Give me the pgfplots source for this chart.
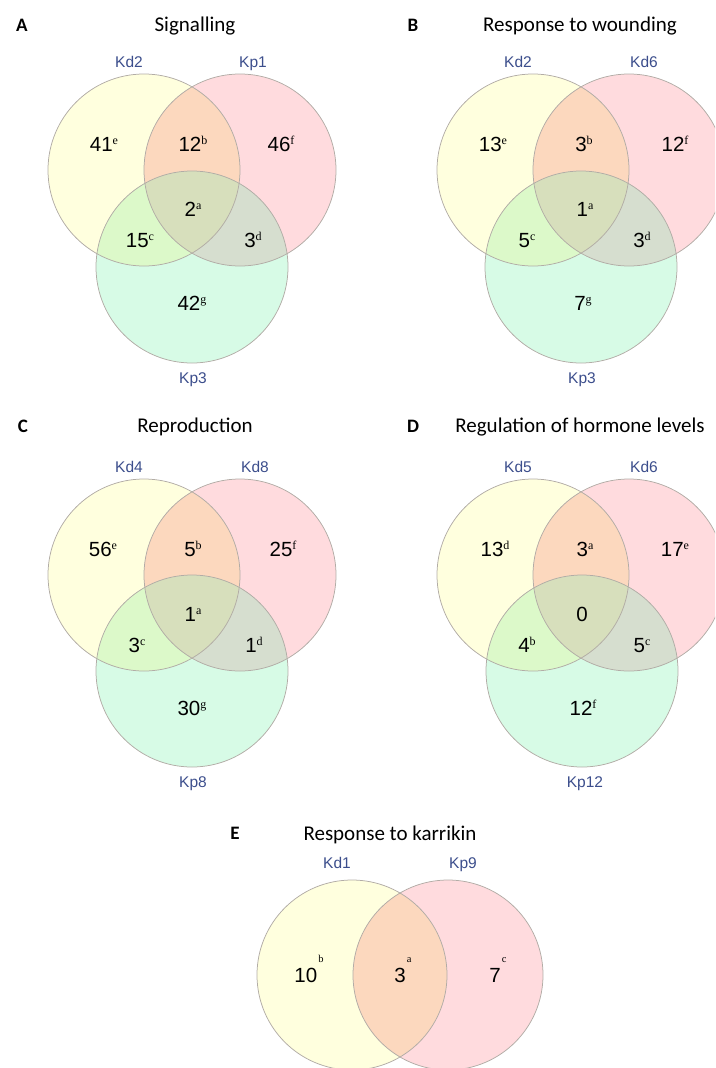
\documentclass[border=0pt]{standalone}
\usepackage{pgfplots}
\pgfplotsset{compat=1.18}
\usepackage{pgfplotstable}
\usepackage{fontspec}
\setmainfont{Carlito}
\newfontfamily\arial{Liberation Sans}
\newfontfamily\tnr{Liberation Serif}
\definecolor{cY}{RGB}{255,255,222}
\definecolor{cP}{RGB}{255,219,222}
\definecolor{cG}{RGB}{215,251,230}
\definecolor{cYP}{RGB}{252,216,190}
\definecolor{cYG}{RGB}{220,249,201}
\definecolor{cPG}{RGB}{214,222,207}
\definecolor{cYPG}{RGB}{215,223,188}
\definecolor{edge}{RGB}{178,172,166}
\definecolor{setlbl}{RGB}{60,78,140}

\tikzset{
  title lbl/.style={font=\fontsize{21}{25}\selectfont, anchor=base},
  panel lbl/.style={font=\bfseries\fontsize{19}{22}\selectfont, anchor=base},
  set lbl/.style={font=\arial\fontsize{15.5}{18}\selectfont, text=setlbl, anchor=base}
}
% superscript letters after the region counts
\newcommand\su[1]{\raisebox{6.5pt}{\tnr\fontsize{12}{12}\selectfont #1}}
\newcommand\sue[1]{\hspace{1pt}\raisebox{20pt}{\tnr\fontsize{10.5}{10.5}\selectfont #1}}

\pgfplotstableread{
x y lbl
104 151 41\su{e}
193 151 12\su{b}
281 151 46\su{f}
193 216 2\su{a}
140 247 15\su{c}
253 247 3\su{d}
192 310 42\su{g}
493 151 13\su{e}
584 151 3\su{b}
675 151 12\su{f}
585 216 1\su{a}
527 247 5\su{c}
642 247 3\su{d}
583 310 7\su{g}
103 556 56\su{e}
193 556 5\su{b}
283 556 25\su{f}
193 621 1\su{a}
137 652 3\su{c}
254 652 1\su{d}
192 715 30\su{g}
495 556 13\su{d}
585 556 3\su{a}
675 556 17\su{e}
582 621 0
527 652 4\su{b}
642 652 5\su{c}
583 715 12\su{f}
}\tblABCD

\pgfplotstableread{
x y lbl
309 982 10\sue{b}
403 982 3\sue{a}
498 982 7\sue{c}
}\tblE

\newcommand\venn[6]{%
  \fill[cY] (axis cs:#1,#2) circle[radius=96];
  \fill[cP] (axis cs:#3,#4) circle[radius=96];
  \fill[cG] (axis cs:#5,#6) circle[radius=96];
  \begin{scope}
    \clip (axis cs:#3,#4) circle[radius=96];
    \fill[cPG] (axis cs:#5,#6) circle[radius=96];
  \end{scope}
  \begin{scope}
    \clip (axis cs:#1,#2) circle[radius=96];
    \fill[cYP] (axis cs:#3,#4) circle[radius=96];
    \fill[cYG] (axis cs:#5,#6) circle[radius=96];
    \clip (axis cs:#3,#4) circle[radius=96];
    \fill[cYPG] (axis cs:#5,#6) circle[radius=96];
  \end{scope}
  \draw[edge, line width=0.75pt] (axis cs:#1,#2) circle[radius=96];
  \draw[edge, line width=0.75pt] (axis cs:#3,#4) circle[radius=96];
  \draw[edge, line width=0.75pt] (axis cs:#5,#6) circle[radius=96];
}

\begin{document}
\begin{tikzpicture}
\begin{axis}[x=1pt, y=1pt, xmin=0, xmax=715, ymin=0, ymax=1068,
  y dir=reverse, hide axis, clip=true]
\venn{144}{170}{240}{170}{192}{267}
\venn{533}{170}{629}{170}{581}{267}
\venn{144}{575}{240}{575}{192}{671}
\venn{533}{575}{629}{575}{582}{671}
% panel E
\fill[cY] (axis cs:352,975) circle[radius=95];
\fill[cP] (axis cs:448,975) circle[radius=95];
\begin{scope}
  \clip (axis cs:352,975) circle[radius=95];
  \fill[cYP] (axis cs:448,975) circle[radius=95];
\end{scope}
\draw[edge, line width=0.75pt] (axis cs:352,975) circle[radius=95];
\draw[edge, line width=0.75pt] (axis cs:448,975) circle[radius=95];

\addplot[only marks, mark=none, point meta=explicit symbolic,
  nodes near coords={\arial\fontsize{20.5}{20.5}\selectfont\pgfplotspointmeta},
  every node near coord/.append style={anchor=base, inner sep=0pt, text=black}]
  table[x=x, y=y, meta=lbl] {\tblABCD};
\addplot[only marks, mark=none, point meta=explicit symbolic,
  nodes near coords={\arial\fontsize{20.5}{20.5}\selectfont\pgfplotspointmeta},
  every node near coord/.append style={anchor=base, inner sep=0pt, text=black}]
  table[x=x, y=y, meta=lbl] {\tblE};

% titles and panel letters
\node[panel lbl] at (axis cs:22,31) {A};
\node[title lbl] at (axis cs:195,31) {Signalling};
\node[panel lbl] at (axis cs:413,31) {B};
\node[title lbl] at (axis cs:580,31) {Response to wounding};
\node[panel lbl] at (axis cs:23,432) {C};
\node[title lbl] at (axis cs:195,432) {Reproduction};
\node[panel lbl] at (axis cs:413,432) {D};
\node[title lbl] at (axis cs:580,432) {Regulation of hormone levels};
\node[panel lbl] at (axis cs:235,839) {E};
\node[title lbl] at (axis cs:390,840) {Response to karrikin};

% set labels
\node[set lbl] at (axis cs:129,67) {Kd2};
\node[set lbl] at (axis cs:253,67) {Kp1};
\node[set lbl] at (axis cs:193,383) {Kp3};
\node[set lbl] at (axis cs:518,67) {Kd2};
\node[set lbl] at (axis cs:644,67) {Kd6};
\node[set lbl] at (axis cs:582,383) {Kp3};
\node[set lbl] at (axis cs:129,472) {Kd4};
\node[set lbl] at (axis cs:255,472) {Kd8};
\node[set lbl] at (axis cs:193,787) {Kp8};
\node[set lbl] at (axis cs:518,472) {Kd5};
\node[set lbl] at (axis cs:644,472) {Kd6};
\node[set lbl] at (axis cs:585,787) {Kp12};
\node[set lbl] at (axis cs:337,868) {Kd1};
\node[set lbl] at (axis cs:463,868) {Kp9};
\end{axis}
\pgfresetboundingbox
\useasboundingbox (current axis.south west) rectangle (current axis.north east);
\end{tikzpicture}
\end{document}
